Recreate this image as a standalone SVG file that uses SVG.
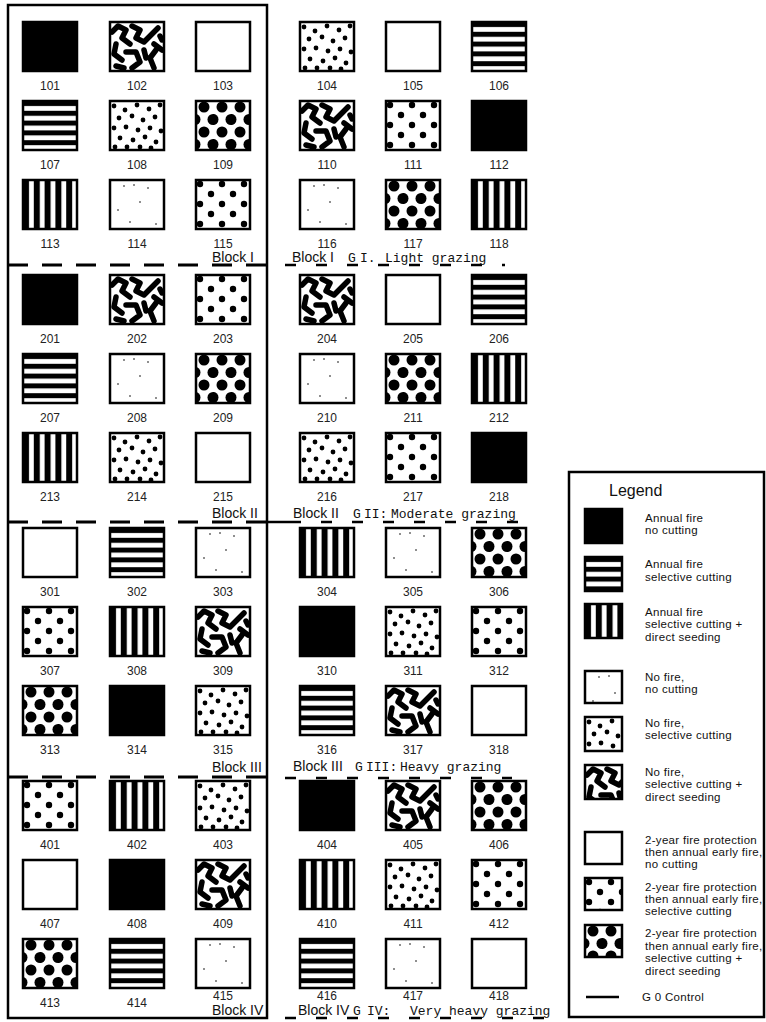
<svg xmlns="http://www.w3.org/2000/svg" width="766" height="1022" viewBox="0 0 766 1022">
<style>
.sq{stroke:#000;stroke-width:2.5}
.num{font-family:"Liberation Sans",Arial,sans-serif;font-size:12px;fill:#222;text-anchor:middle}
.blk{font-family:"Liberation Sans",Arial,sans-serif;font-size:14px;fill:#111}
.mono{font-family:"Liberation Mono","Courier New",monospace;font-size:13px;fill:#111}
.lg{font-family:"Liberation Sans",Arial,sans-serif;font-size:11.5px;letter-spacing:0.3px;fill:#111}
.ttl{font-family:"Liberation Sans",Arial,sans-serif;font-size:16px;fill:#111}
.dash{stroke:#000;stroke-width:3;stroke-dasharray:20 14;fill:none}
.udash{stroke:#000;stroke-width:2.5;stroke-dasharray:11 20;fill:none}
.solid{stroke:#000;stroke-width:2.5;fill:none}
</style>
<defs>
<pattern id="pat-h" width="54" height="9.8" patternUnits="userSpaceOnUse"><rect width="54" height="9.8" fill="#fff"/><rect width="54" height="5" fill="#000"/></pattern>
<pattern id="pat-v" width="10.8" height="49" patternUnits="userSpaceOnUse"><rect width="10.8" height="49" fill="#fff"/><rect width="6" height="49" fill="#000"/></pattern>
<pattern id="pat-md" width="22" height="20" patternUnits="userSpaceOnUse"><rect width="22" height="20" fill="#fff"/><circle cx="4" cy="4" r="3.2"/><circle cx="15" cy="14" r="3.2"/></pattern>
<pattern id="pat-bd" width="18" height="25" patternUnits="userSpaceOnUse"><rect width="18" height="25" fill="#fff"/><circle cx="8" cy="6" r="5.5"/><circle cx="17" cy="18.5" r="5.5"/><circle cx="-1" cy="18.5" r="5.5"/></pattern>
<pattern id="pat-rd" width="54" height="49" patternUnits="userSpaceOnUse"><rect width="54" height="49" fill="#fff"/>
<g fill="#000"><circle cx="4" cy="5" r="2.4"/><circle cx="15" cy="9" r="2.4"/><circle cx="27" cy="4" r="2.4"/><circle cx="39" cy="8" r="2.4"/><circle cx="50" cy="4" r="2.4"/><circle cx="9" cy="17" r="2.4"/><circle cx="22" cy="15" r="2.4"/><circle cx="33" cy="19" r="2.4"/><circle cx="45" cy="16" r="2.4"/><circle cx="4" cy="27" r="2.4"/><circle cx="16" cy="26" r="2.4"/><circle cx="28" cy="29" r="2.4"/><circle cx="40" cy="27" r="2.4"/><circle cx="51" cy="30" r="2.4"/><circle cx="10" cy="37" r="2.4"/><circle cx="23" cy="39" r="2.4"/><circle cx="35" cy="36" r="2.4"/><circle cx="46" cy="41" r="2.4"/><circle cx="5" cy="46" r="2.4"/><circle cx="17" cy="46" r="2.4"/><circle cx="30" cy="46" r="2.4"/><circle cx="41" cy="47" r="2.4"/></g></pattern>
<pattern id="pat-bl" width="54" height="49" patternUnits="userSpaceOnUse"><rect width="54" height="49" fill="#fff"/>
<path d="M2,10 L8,4 L16,8 L12,16 L20,22 M6,22 L4,32 L12,38 M22,4 L30,8 L26,16 L34,20 L40,14 L48,6 M44,22 L52,28 M46,28 L40,36 L44,46 M16,30 L26,30 L30,40 L22,46 M34,28 L36,36 M6,44 L14,46 M50,14 L52,18" stroke="#000" stroke-width="5.5" fill="none" stroke-linejoin="round" stroke-linecap="round"/></pattern>
<pattern id="pat-sp" width="54" height="49" patternUnits="userSpaceOnUse"><rect width="54" height="49" fill="#fff"/><g fill="#000"><circle cx="14" cy="6" r="0.8"/><circle cx="24" cy="5" r="0.8"/><circle cx="38" cy="8" r="0.8"/><circle cx="30" cy="22" r="0.8"/><circle cx="8" cy="30" r="0.8"/><circle cx="20" cy="42" r="0.8"/><circle cx="46" cy="44" r="0.8"/></g></pattern>
</defs>

<g id="frame">
<rect x="8" y="5" width="259" height="1013" class="solid"/>
</g>

<g id="connectors">
<line x1="8" y1="265" x2="267" y2="265" class="dash"/>
<line x1="285" y1="265" x2="505" y2="265" class="udash"/>
<line x1="8" y1="522" x2="267" y2="522" class="dash"/>
<line x1="267" y1="522" x2="290" y2="522" class="solid"/>
<line x1="290" y1="522" x2="525" y2="522" class="udash"/>
<line x1="8" y1="777" x2="267" y2="777" class="dash"/>
<line x1="285" y1="778" x2="512" y2="778" class="udash"/>
<line x1="285" y1="1018" x2="555" y2="1018" class="udash"/>
</g>

<g id="block-labels">
<text class="blk" x="212" y="262">Block I</text>
<text class="blk" x="292" y="262">Block I</text>
<text class="mono" x="348" y="262">G</text><text class="mono" x="360" y="262">I.</text><text class="mono" x="385" y="262">Light grazing</text>
<text class="blk" x="212" y="518">Block II</text>
<text class="blk" x="293" y="518">Block II</text>
<text class="mono" x="353" y="518">G</text><text class="mono" x="364" y="518">II:</text><text class="mono" x="391" y="518">Moderate grazing</text>
<text class="blk" x="212" y="772">Block III</text>
<text class="blk" x="293" y="771">Block III</text>
<text class="mono" x="355" y="771">G</text><text class="mono" x="366" y="771">III:</text><text class="mono" x="400" y="771">Heavy grazing</text>
<text class="blk" x="212" y="1015">Block IV</text>
<text class="blk" x="298" y="1015">Block IV</text>
<text class="mono" x="353" y="1015">G</text><text class="mono" x="367" y="1015">IV:</text><text class="mono" x="410" y="1015">Very heavy grazing</text>
</g>

<!-- Block I -->
<g id="plot-101" transform="translate(23,22)"><rect class="sq" width="54" height="49" fill="#000"/><text class="num" x="27" y="68">101</text></g>
<g id="plot-102" transform="translate(110,22)"><rect class="sq" width="54" height="49" fill="url(#pat-bl)"/><text class="num" x="27" y="68">102</text></g>
<g id="plot-103" transform="translate(196,22)"><rect class="sq" width="54" height="49" fill="#fff"/><text class="num" x="27" y="68">103</text></g>
<g id="plot-104" transform="translate(300,22)"><rect class="sq" width="54" height="49" fill="url(#pat-rd)"/><text class="num" x="27" y="68">104</text></g>
<g id="plot-105" transform="translate(386,22)"><rect class="sq" width="54" height="49" fill="#fff"/><text class="num" x="27" y="68">105</text></g>
<g id="plot-106" transform="translate(472,22)"><rect class="sq" width="54" height="49" fill="url(#pat-h)"/><text class="num" x="27" y="68">106</text></g>
<g id="plot-107" transform="translate(23,101)"><rect class="sq" width="54" height="49" fill="url(#pat-h)"/><text class="num" x="27" y="68">107</text></g>
<g id="plot-108" transform="translate(110,101)"><rect class="sq" width="54" height="49" fill="url(#pat-rd)"/><text class="num" x="27" y="68">108</text></g>
<g id="plot-109" transform="translate(196,101)"><rect class="sq" width="54" height="49" fill="url(#pat-bd)"/><text class="num" x="27" y="68">109</text></g>
<g id="plot-110" transform="translate(300,101)"><rect class="sq" width="54" height="49" fill="url(#pat-bl)"/><text class="num" x="27" y="68">110</text></g>
<g id="plot-111" transform="translate(386,101)"><rect class="sq" width="54" height="49" fill="url(#pat-md)"/><text class="num" x="27" y="68">111</text></g>
<g id="plot-112" transform="translate(472,101)"><rect class="sq" width="54" height="49" fill="#000"/><text class="num" x="27" y="68">112</text></g>
<g id="plot-113" transform="translate(23,180)"><rect class="sq" width="54" height="49" fill="url(#pat-v)"/><text class="num" x="27" y="68">113</text></g>
<g id="plot-114" transform="translate(110,180)"><rect class="sq" width="54" height="49" fill="url(#pat-sp)"/><text class="num" x="27" y="68">114</text></g>
<g id="plot-115" transform="translate(196,180)"><rect class="sq" width="54" height="49" fill="url(#pat-md)"/><text class="num" x="27" y="68">115</text></g>
<g id="plot-116" transform="translate(300,180)"><rect class="sq" width="54" height="49" fill="url(#pat-sp)"/><text class="num" x="27" y="68">116</text></g>
<g id="plot-117" transform="translate(386,180)"><rect class="sq" width="54" height="49" fill="url(#pat-bd)"/><text class="num" x="27" y="68">117</text></g>
<g id="plot-118" transform="translate(472,180)"><rect class="sq" width="54" height="49" fill="url(#pat-v)"/><text class="num" x="27" y="68">118</text></g>

<!-- Block II -->
<g id="plot-201" transform="translate(23,275)"><rect class="sq" width="54" height="49" fill="#000"/><text class="num" x="27" y="68">201</text></g>
<g id="plot-202" transform="translate(110,275)"><rect class="sq" width="54" height="49" fill="url(#pat-bl)"/><text class="num" x="27" y="68">202</text></g>
<g id="plot-203" transform="translate(196,275)"><rect class="sq" width="54" height="49" fill="url(#pat-md)"/><text class="num" x="27" y="68">203</text></g>
<g id="plot-204" transform="translate(300,275)"><rect class="sq" width="54" height="49" fill="url(#pat-bl)"/><text class="num" x="27" y="68">204</text></g>
<g id="plot-205" transform="translate(386,275)"><rect class="sq" width="54" height="49" fill="#fff"/><text class="num" x="27" y="68">205</text></g>
<g id="plot-206" transform="translate(472,275)"><rect class="sq" width="54" height="49" fill="url(#pat-h)"/><text class="num" x="27" y="68">206</text></g>
<g id="plot-207" transform="translate(23,354)"><rect class="sq" width="54" height="49" fill="url(#pat-h)"/><text class="num" x="27" y="68">207</text></g>
<g id="plot-208" transform="translate(110,354)"><rect class="sq" width="54" height="49" fill="url(#pat-sp)"/><text class="num" x="27" y="68">208</text></g>
<g id="plot-209" transform="translate(196,354)"><rect class="sq" width="54" height="49" fill="url(#pat-bd)"/><text class="num" x="27" y="68">209</text></g>
<g id="plot-210" transform="translate(300,354)"><rect class="sq" width="54" height="49" fill="url(#pat-sp)"/><text class="num" x="27" y="68">210</text></g>
<g id="plot-211" transform="translate(386,354)"><rect class="sq" width="54" height="49" fill="url(#pat-bd)"/><text class="num" x="27" y="68">211</text></g>
<g id="plot-212" transform="translate(472,354)"><rect class="sq" width="54" height="49" fill="url(#pat-v)"/><text class="num" x="27" y="68">212</text></g>
<g id="plot-213" transform="translate(23,433)"><rect class="sq" width="54" height="49" fill="url(#pat-v)"/><text class="num" x="27" y="68">213</text></g>
<g id="plot-214" transform="translate(110,433)"><rect class="sq" width="54" height="49" fill="url(#pat-rd)"/><text class="num" x="27" y="68">214</text></g>
<g id="plot-215" transform="translate(196,433)"><rect class="sq" width="54" height="49" fill="#fff"/><text class="num" x="27" y="68">215</text></g>
<g id="plot-216" transform="translate(300,433)"><rect class="sq" width="54" height="49" fill="url(#pat-rd)"/><text class="num" x="27" y="68">216</text></g>
<g id="plot-217" transform="translate(386,433)"><rect class="sq" width="54" height="49" fill="url(#pat-md)"/><text class="num" x="27" y="68">217</text></g>
<g id="plot-218" transform="translate(472,433)"><rect class="sq" width="54" height="49" fill="#000"/><text class="num" x="27" y="68">218</text></g>

<!-- Block III -->
<g id="plot-301" transform="translate(23,528)"><rect class="sq" width="54" height="49" fill="#fff"/><text class="num" x="27" y="68">301</text></g>
<g id="plot-302" transform="translate(110,528)"><rect class="sq" width="54" height="49" fill="url(#pat-h)"/><text class="num" x="27" y="68">302</text></g>
<g id="plot-303" transform="translate(196,528)"><rect class="sq" width="54" height="49" fill="url(#pat-sp)"/><text class="num" x="27" y="68">303</text></g>
<g id="plot-304" transform="translate(300,528)"><rect class="sq" width="54" height="49" fill="url(#pat-v)"/><text class="num" x="27" y="68">304</text></g>
<g id="plot-305" transform="translate(386,528)"><rect class="sq" width="54" height="49" fill="url(#pat-sp)"/><text class="num" x="27" y="68">305</text></g>
<g id="plot-306" transform="translate(472,528)"><rect class="sq" width="54" height="49" fill="url(#pat-bd)"/><text class="num" x="27" y="68">306</text></g>
<g id="plot-307" transform="translate(23,607)"><rect class="sq" width="54" height="49" fill="url(#pat-md)"/><text class="num" x="27" y="68">307</text></g>
<g id="plot-308" transform="translate(110,607)"><rect class="sq" width="54" height="49" fill="url(#pat-v)"/><text class="num" x="27" y="68">308</text></g>
<g id="plot-309" transform="translate(196,607)"><rect class="sq" width="54" height="49" fill="url(#pat-bl)"/><text class="num" x="27" y="68">309</text></g>
<g id="plot-310" transform="translate(300,607)"><rect class="sq" width="54" height="49" fill="#000"/><text class="num" x="27" y="68">310</text></g>
<g id="plot-311" transform="translate(386,607)"><rect class="sq" width="54" height="49" fill="url(#pat-rd)"/><text class="num" x="27" y="68">311</text></g>
<g id="plot-312" transform="translate(472,607)"><rect class="sq" width="54" height="49" fill="url(#pat-md)"/><text class="num" x="27" y="68">312</text></g>
<g id="plot-313" transform="translate(23,686)"><rect class="sq" width="54" height="49" fill="url(#pat-bd)"/><text class="num" x="27" y="68">313</text></g>
<g id="plot-314" transform="translate(110,686)"><rect class="sq" width="54" height="49" fill="#000"/><text class="num" x="27" y="68">314</text></g>
<g id="plot-315" transform="translate(196,686)"><rect class="sq" width="54" height="49" fill="url(#pat-rd)"/><text class="num" x="27" y="68">315</text></g>
<g id="plot-316" transform="translate(300,686)"><rect class="sq" width="54" height="49" fill="url(#pat-h)"/><text class="num" x="27" y="68">316</text></g>
<g id="plot-317" transform="translate(386,686)"><rect class="sq" width="54" height="49" fill="url(#pat-bl)"/><text class="num" x="27" y="68">317</text></g>
<g id="plot-318" transform="translate(472,686)"><rect class="sq" width="54" height="49" fill="#fff"/><text class="num" x="27" y="68">318</text></g>

<!-- Block IV -->
<g id="plot-401" transform="translate(23,781)"><rect class="sq" width="54" height="49" fill="url(#pat-md)"/><text class="num" x="27" y="68">401</text></g>
<g id="plot-402" transform="translate(110,781)"><rect class="sq" width="54" height="49" fill="url(#pat-v)"/><text class="num" x="27" y="68">402</text></g>
<g id="plot-403" transform="translate(196,781)"><rect class="sq" width="54" height="49" fill="url(#pat-rd)"/><text class="num" x="27" y="68">403</text></g>
<g id="plot-404" transform="translate(300,781)"><rect class="sq" width="54" height="49" fill="#000"/><text class="num" x="27" y="68">404</text></g>
<g id="plot-405" transform="translate(386,781)"><rect class="sq" width="54" height="49" fill="url(#pat-bl)"/><text class="num" x="27" y="68">405</text></g>
<g id="plot-406" transform="translate(472,781)"><rect class="sq" width="54" height="49" fill="url(#pat-bd)"/><text class="num" x="27" y="68">406</text></g>
<g id="plot-407" transform="translate(23,860)"><rect class="sq" width="54" height="49" fill="#fff"/><text class="num" x="27" y="68">407</text></g>
<g id="plot-408" transform="translate(110,860)"><rect class="sq" width="54" height="49" fill="#000"/><text class="num" x="27" y="68">408</text></g>
<g id="plot-409" transform="translate(196,860)"><rect class="sq" width="54" height="49" fill="url(#pat-bl)"/><text class="num" x="27" y="68">409</text></g>
<g id="plot-410" transform="translate(300,860)"><rect class="sq" width="54" height="49" fill="url(#pat-v)"/><text class="num" x="27" y="68">410</text></g>
<g id="plot-411" transform="translate(386,860)"><rect class="sq" width="54" height="49" fill="url(#pat-rd)"/><text class="num" x="27" y="68">411</text></g>
<g id="plot-412" transform="translate(472,860)"><rect class="sq" width="54" height="49" fill="url(#pat-md)"/><text class="num" x="27" y="68">412</text></g>
<g id="plot-413" transform="translate(23,939)"><rect class="sq" width="54" height="49" fill="url(#pat-bd)"/><text class="num" x="27" y="68">413</text></g>
<g id="plot-414" transform="translate(110,939)"><rect class="sq" width="54" height="49" fill="url(#pat-h)"/><text class="num" x="27" y="68">414</text></g>
<g id="plot-415" transform="translate(196,939)"><rect class="sq" width="54" height="49" fill="url(#pat-sp)"/><text class="num" x="27" y="61">415</text></g>
<g id="plot-416" transform="translate(300,939)"><rect class="sq" width="54" height="49" fill="url(#pat-h)"/><text class="num" x="27" y="61">416</text></g>
<g id="plot-417" transform="translate(386,939)"><rect class="sq" width="54" height="49" fill="url(#pat-sp)"/><text class="num" x="27" y="61">417</text></g>
<g id="plot-418" transform="translate(472,939)"><rect class="sq" width="54" height="49" fill="#fff"/><text class="num" x="27" y="61">418</text></g>

<!-- Legend -->
<g id="legend">
<rect x="569" y="472" width="195" height="545" class="solid" stroke-width="2"/>
<text class="ttl" x="609" y="496">Legend</text>
<g id="legend-1"><g transform="translate(585,509)"><rect class="sq" width="37" height="34" fill="#000"/></g>
<text class="lg" x="645" y="522">Annual fire</text><text class="lg" x="645" y="534">no  cutting</text></g>
<g id="legend-2"><g transform="translate(585,557)"><rect class="sq" width="37" height="34" fill="url(#pat-h)"/></g>
<text class="lg" x="645" y="568">Annual fire</text><text class="lg" x="645" y="581">selective cutting</text></g>
<g id="legend-3"><g transform="translate(585,604)"><rect class="sq" width="37" height="34" fill="url(#pat-v)"/></g>
<text class="lg" x="645" y="616">Annual fire</text><text class="lg" x="645" y="628">selective cutting +</text><text class="lg" x="645" y="641">direct seeding</text></g>
<g id="legend-4"><g transform="translate(585,671)"><rect class="sq" width="37" height="32" fill="url(#pat-sp)"/></g>
<text class="lg" x="645" y="681">No fire,</text><text class="lg" x="645" y="693">no cutting</text></g>
<g id="legend-5"><g transform="translate(585,717)"><rect class="sq" width="37" height="34" fill="url(#pat-rd)"/></g>
<text class="lg" x="645" y="727">No fire,</text><text class="lg" x="645" y="739">selective cutting</text></g>
<g id="legend-6"><g transform="translate(585,765)"><rect class="sq" width="37" height="34" fill="url(#pat-bl)"/></g>
<text class="lg" x="645" y="776">No fire,</text><text class="lg" x="645" y="788">selective cutting +</text><text class="lg" x="645" y="801">direct seeding</text></g>
<g id="legend-7"><g transform="translate(585,832)"><rect class="sq" width="37" height="32" fill="#fff"/></g>
<text class="lg" x="645" y="844">2-year fire protection</text><text class="lg" x="645" y="856">then annual early fire,</text><text class="lg" x="645" y="868">no cutting</text></g>
<g id="legend-8"><g transform="translate(585,878)"><rect class="sq" width="37" height="32" fill="url(#pat-md)"/></g>
<text class="lg" x="645" y="891">2-year fire protection</text><text class="lg" x="645" y="903">then annual early fire,</text><text class="lg" x="645" y="915">selective cutting</text></g>
<g id="legend-9"><g transform="translate(585,925)"><rect class="sq" width="37" height="32" fill="url(#pat-bd)"/></g>
<text class="lg" x="645" y="937">2-year fire protection</text><text class="lg" x="645" y="950">then annual early fire,</text><text class="lg" x="645" y="962">selective cutting +</text><text class="lg" x="645" y="975">direct seeding</text></g>
<g id="legend-10"><line x1="586" y1="997" x2="619" y2="997" class="solid"/>
<text class="lg" x="642" y="1001">G 0  Control</text></g>
</g>
</svg>
